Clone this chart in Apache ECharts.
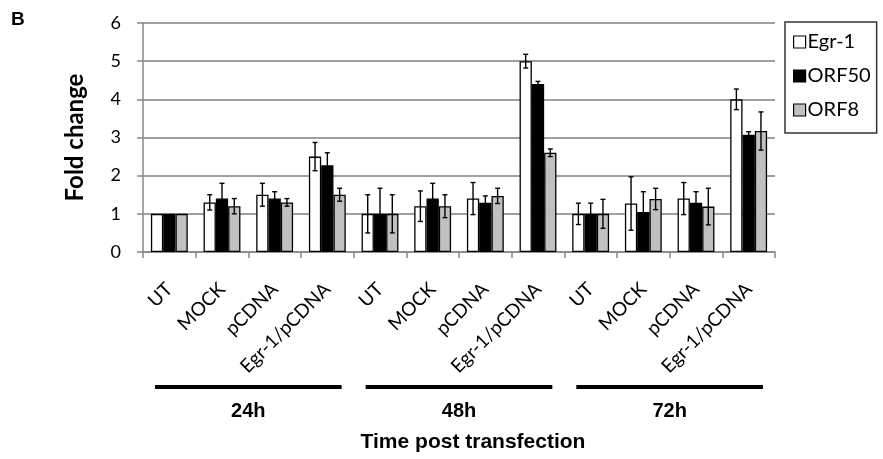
<!DOCTYPE html>
<html lang="en">
<head>
<meta charset="UTF-8">
<title>Fold change</title>
<script src="https://cdn.jsdelivr.net/npm/echarts@6/dist/echarts.min.js"></script>
<style>
  html, body { margin: 0; padding: 0; background: #fff; }
  #chart { width: 883px; height: 459px; }
</style>
</head>
<body>
<div id="chart"></div>
<script>
// conditions, repeated for each time point
const categories = [
  'UT', 'MOCK', 'pCDNA', 'Egr-1/pCDNA',
  'UT', 'MOCK', 'pCDNA', 'Egr-1/pCDNA',
  'UT', 'MOCK', 'pCDNA', 'Egr-1/pCDNA'
];
const timeGroups = ['24h', '48h', '72h'];
const yTicks = [0, 1, 2, 3, 4, 5, 6];

const egr1 = [1, 1.3, 1.5, 2.5, 1, 1.2, 1.4, 5.0, 1, 1.27, 1.4, 4.0];
const egr1Err = [0, 0.2, 0.3, 0.37, 0.5, 0.4, 0.42, 0.18, 0.28, 0.7, 0.42, 0.27];
const orf50 = [1, 1.4, 1.4, 2.27, 1, 1.4, 1.29, 4.4, 1, 1.05, 1.29, 3.07];
const orf50Err = [0, 0.4, 0.18, 0.33, 0.67, 0.4, 0.18, 0.07, 0.28, 0.53, 0.29, 0.08];
const orf8 = [1, 1.2, 1.3, 1.5, 1, 1.2, 1.47, 2.6, 1, 1.39, 1.19, 3.17];
const orf8Err = [0, 0.2, 0.1, 0.17, 0.5, 0.3, 0.2, 0.1, 0.38, 0.28, 0.48, 0.5];

const chart = echarts.init(document.getElementById('chart'));

const series = [
  { name: 'Egr-1', values: egr1, errs: egr1Err, color: '#ffffff' },
  { name: 'ORF50', values: orf50, errs: orf50Err, color: '#000000' },
  { name: 'ORF8', values: orf8, errs: orf8Err, color: '#c0c0c0' }
];

// error bars drawn on top of each bar, shifted to match the bar slot
function errorBars(slot, values, errs) {
  return {
    type: 'custom',
    z: 10,
    silent: true,
    encode: { x: 0, y: 1 },
    data: values.map((v, i) => [i, v, errs[i]]),
    renderItem: function (params, api) {
      const err = api.value(2);
      if (!err) return null;
      const band = api.size([1, 0])[0];
      const barW = band * 0.7 / 3;
      const top = api.coord([api.value(0), api.value(1) + err]);
      const bot = api.coord([api.value(0), api.value(1) - err]);
      const x = top[0] + (slot - 1) * barW;
      const cap = 2.5;
      const style = { stroke: '#000', lineWidth: 1.4 };
      return {
        type: 'group',
        children: [
          { type: 'line', shape: { x1: x, y1: top[1], x2: x, y2: bot[1] }, style: style },
          { type: 'line', shape: { x1: x - cap, y1: top[1], x2: x + cap, y2: top[1] }, style: style },
          { type: 'line', shape: { x1: x - cap, y1: bot[1], x2: x + cap, y2: bot[1] }, style: style }
        ]
      };
    }
  };
}

const barSeries = series.map(s => ({
  name: s.name,
  type: 'bar',
  data: s.values,
  barGap: '0%',
  barCategoryGap: '30%',
  itemStyle: { color: s.color, borderColor: '#000', borderWidth: 1.3 }
}));

chart.setOption({
  animation: false,
  backgroundColor: '#fff',
  grid: { left: 143, right: 108, top: 23, bottom: 207 },
  legend: {
    data: series.map(s => s.name),
    orient: 'vertical',
    left: 785,
    top: 22,
    width: 95,
    padding: [9, 6, 12, 8],
    itemGap: 12,
    itemWidth: 12,
    itemHeight: 12,
    icon: 'rect',
    borderColor: '#333',
    borderWidth: 1.5,
    itemStyle: { borderColor: '#000', borderWidth: 1.2 },
    textStyle: { fontFamily: 'Lato', fontSize: 20, color: '#000', lineHeight: 22, padding: [0, 0, 0, -3] }
  },
  xAxis: {
    type: 'category',
    data: categories,
    axisLine: { lineStyle: { color: '#888', width: 1.5 } },
    axisTick: { show: true, length: 6, lineStyle: { color: '#888', width: 1.5 } },
    axisLabel: {
      interval: 0,
      rotate: 45,
      margin: 34,
      fontFamily: 'Lato',
      fontSize: 19,
      color: '#000'
    },
    name: 'Time post transfection',
    nameLocation: 'middle',
    nameGap: 180,
    nameTextStyle: {
      fontFamily: 'Liberation Sans', fontWeight: 'bold', fontSize: 21, color: '#000',
      padding: [0, 0, 0, 28]
    }
  },
  yAxis: {
    type: 'value',
    min: yTicks[0],
    max: yTicks[yTicks.length - 1],
    interval: 1,
    name: 'Fold change',
    nameLocation: 'middle',
    nameGap: 56,
    nameTextStyle: { fontFamily: 'Lato', fontWeight: 'bold', fontSize: 24, color: '#000' },
    axisLine: { show: true, lineStyle: { color: '#888', width: 1.5 } },
    axisTick: { show: true, length: 6, lineStyle: { color: '#888', width: 1.5 } },
    axisLabel: { margin: 22, fontFamily: 'Lato', fontSize: 18, color: '#000' },
    splitLine: { lineStyle: { color: '#808080', width: 1.5 } }
  },
  series: barSeries.concat(series.map((s, k) => errorBars(k, s.values, s.errs)))
});

// time-point brackets under the condition labels
const px0 = chart.convertToPixel({ xAxisIndex: 0 }, 0);
const px1 = chart.convertToPixel({ xAxisIndex: 0 }, 1);
const band = px1 - px0;
const axisY = chart.convertToPixel({ yAxisIndex: 0 }, 0);
const graphics = [{
  type: 'text',
  left: 11,
  top: 10,
  style: { text: 'B', font: 'bold 19px "Liberation Sans"', fill: '#000' }
}];
timeGroups.forEach((g, i) => {
  const start = chart.convertToPixel({ xAxisIndex: 0 }, i * 4) - band / 2 + 12;
  const end = chart.convertToPixel({ xAxisIndex: 0 }, i * 4 + 3) + band / 2 - 12;
  graphics.push({
    type: 'line',
    shape: { x1: start, y1: axisY + 135, x2: end, y2: axisY + 135 },
    style: { stroke: '#000', lineWidth: 4 }
  });
  graphics.push({
    type: 'text',
    x: (start + end) / 2,
    y: axisY + 159,
    style: {
      text: g,
      font: 'bold 20px "Liberation Sans"',
      fill: '#000',
      textAlign: 'center',
      textVerticalAlign: 'middle'
    }
  });
});
chart.setOption({ graphic: graphics });
</script>
</body>
</html>
